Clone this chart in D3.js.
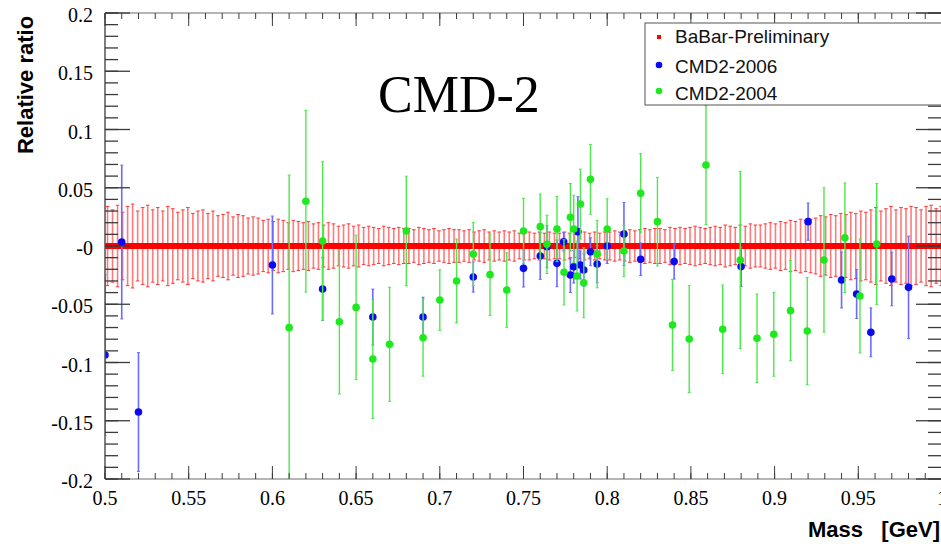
<!DOCTYPE html>
<html>
<head>
<meta charset="utf-8">
<script src="https://cdn.jsdelivr.net/npm/d3@7"></script>
<style>
  body { margin: 0; background: #fff; }
  svg { display: block; }
</style>
</head>
<body>
<script>
// BaBar-Preliminary: bin centres (GeV) and half-width of the error bars (ratio is 0)
const babarMass = [
  0.5015,0.5045,0.5075,0.5105,0.5135,0.5165,0.5195,0.5225,0.5255,0.5285,
  0.5315,0.5345,0.5375,0.5405,0.5435,0.5465,0.5495,0.5525,0.5555,0.5585,
  0.5615,0.5645,0.5675,0.5705,0.5735,0.5765,0.5795,0.5825,0.5855,0.5885,
  0.5915,0.5945,0.5975,0.6005,0.6035,0.6065,0.6095,0.6125,0.6155,0.6185,
  0.6215,0.6245,0.6275,0.6305,0.6335,0.6365,0.6395,0.6425,0.6455,0.6485,
  0.6515,0.6545,0.6575,0.6605,0.6635,0.6665,0.6695,0.6725,0.6755,0.6785,
  0.6815,0.6845,0.6875,0.6905,0.6935,0.6965,0.6995,0.7025,0.7055,0.7085,
  0.7115,0.7145,0.7175,0.7205,0.7235,0.7265,0.7295,0.7325,0.7355,0.7385,
  0.7415,0.7445,0.7475,0.7505,0.7535,0.7565,0.7595,0.7625,0.7655,0.7685,
  0.7715,0.7745,0.7775,0.7805,0.7835,0.7865,0.7895,0.7925,0.7955,0.7985,
  0.8015,0.8045,0.8075,0.8105,0.8135,0.8165,0.8195,0.8225,0.8255,0.8285,
  0.8315,0.8345,0.8375,0.8405,0.8435,0.8465,0.8495,0.8525,0.8555,0.8585,
  0.8615,0.8645,0.8675,0.8705,0.8735,0.8765,0.8795,0.8825,0.8855,0.8885,
  0.8915,0.8945,0.8975,0.9005,0.9035,0.9065,0.9095,0.9125,0.9155,0.9185,
  0.9215,0.9245,0.9275,0.9305,0.9335,0.9365,0.9395,0.9425,0.9455,0.9485,
  0.9515,0.9545,0.9575,0.9605,0.9635,0.9665,0.9695,0.9725,0.9755,0.9785,
  0.9815,0.9845,0.9875,0.9905,0.9935,0.9965,0.9995
];
const babarErr = [
  0.034,0.031,0.035,0.029,0.034,0.036,0.030,0.033,0.035,0.031,
  0.033,0.030,0.034,0.032,0.029,0.031,0.033,0.028,0.030,0.031,
  0.028,0.030,0.026,0.027,0.029,0.025,0.027,0.026,0.024,0.025,
  0.024,0.022,0.023,0.021,0.023,0.022,0.020,0.022,0.021,0.020,
  0.021,0.019,0.020,0.018,0.020,0.019,0.017,0.018,0.019,0.017,
  0.018,0.016,0.017,0.016,0.015,0.017,0.016,0.015,0.016,0.015,
  0.015,0.014,0.016,0.015,0.014,0.015,0.013,0.014,0.015,0.014,
  0.014,0.013,0.014,0.012,0.013,0.014,0.012,0.013,0.012,0.013,
  0.012,0.013,0.011,0.012,0.012,0.011,0.012,0.011,0.012,0.011,
  0.011,0.012,0.011,0.010,0.011,0.012,0.011,0.012,0.011,0.012,
  0.012,0.013,0.012,0.013,0.014,0.013,0.014,0.015,0.014,0.015,
  0.015,0.014,0.016,0.015,0.016,0.015,0.016,0.017,0.016,0.015,
  0.016,0.017,0.016,0.018,0.017,0.016,0.018,0.017,0.019,0.018,
  0.018,0.019,0.020,0.019,0.021,0.020,0.022,0.021,0.023,0.022,
  0.023,0.024,0.026,0.025,0.027,0.026,0.028,0.027,0.029,0.028,
  0.030,0.029,0.031,0.033,0.030,0.032,0.034,0.031,0.033,0.032,
  0.034,0.033,0.031,0.034,0.035,0.032,0.034
];

// CMD2-2006
const cmd06Mass = [0.500,0.510,0.520,0.600,0.630,0.660,0.690,0.720,0.750,0.760,0.764,0.770,0.774,0.778,0.780,0.7825,0.784,0.786,0.790,0.794,0.800,0.810,0.820,0.840,0.880,0.920,0.940,0.949,0.9575,0.970,0.980];
const cmd06Val  = [-0.0936,0.0034,-0.1425,-0.0163,-0.0370,-0.0610,-0.0610,-0.0266,-0.0192,-0.0086,-0.0006,-0.0149,0.0037,-0.0249,-0.0178,0.0123,-0.0163,-0.0206,-0.0049,-0.0155,0.0000,0.0103,-0.0114,-0.0134,-0.0177,0.0209,-0.0292,-0.0412,-0.0741,-0.0283,-0.0355];
const cmd06Err  = [0.069,0.066,0.051,0.042,0.027,0.024,0.017,0.013,0.016,0.020,0.018,0.020,0.008,0.015,0.014,0.030,0.012,0.014,0.012,0.016,0.015,0.027,0.014,0.015,0.017,0.016,0.024,0.021,0.021,0.023,0.044];

// CMD2-2004
const cmd04Mass = [0.610,0.620,0.630,0.640,0.650,0.660,0.670,0.680,0.690,0.700,0.710,0.720,0.730,0.740,0.750,0.760,0.764,0.770,0.7742,0.778,0.780,0.782,0.784,0.786,0.790,0.794,0.800,0.810,0.820,0.830,0.839,0.849,0.859,0.869,0.8795,0.8895,0.8995,0.9095,0.9195,0.9295,0.942,0.951,0.961];
const cmd04Val  = [-0.0701,0.0384,0.0043,-0.0650,-0.0527,-0.0970,-0.0844,0.0129,-0.0787,-0.0464,-0.0300,-0.0069,-0.0246,-0.0378,0.0129,0.0166,0.0014,0.0146,-0.0226,0.0246,0.0146,-0.0258,0.0360,-0.0315,0.0572,-0.0069,0.0146,-0.0043,0.0452,0.0209,-0.0678,-0.0798,0.0695,-0.0715,-0.0120,-0.0792,-0.0758,-0.0555,-0.0730,-0.0120,0.0071,-0.0429,0.0017];
const cmd04Err  = [0.131,0.078,0.068,0.062,0.062,0.051,0.049,0.047,0.033,0.026,0.036,0.027,0.035,0.032,0.028,0.028,0.025,0.028,0.028,0.029,0.029,0.030,0.030,0.030,0.030,0.029,0.026,0.022,0.034,0.038,0.039,0.046,0.051,0.038,0.076,0.038,0.036,0.043,0.046,0.062,0.047,0.049,0.052];

const xMajorTicks = [0.5,0.55,0.6,0.65,0.7,0.75,0.8,0.85,0.9,0.95,1.0];
const xTickLabels = ["0.5","0.55","0.6","0.65","0.7","0.75","0.8","0.85","0.9","0.95","1"];
const yMajorTicks = [-0.2,-0.15,-0.1,-0.05,0,0.05,0.1,0.15,0.2];
const yTickLabels = ["-0.2","-0.15","-0.1","-0.05","-0","0.05","0.1","0.15","0.2"];
const legendNames = ["BaBar-Preliminary","CMD2-2006","CMD2-2004"];

const width = 941, height = 544;
const x0 = 105, x1 = 942, y0 = 13, y1 = 479;

const x = d3.scaleLinear().domain([0.5, 1.0]).range([x0, x1]);
const y = d3.scaleLinear().domain([-0.2, 0.2]).range([y1, y0]);

const svg = d3.select("body").append("svg")
  .attr("width", width).attr("height", height);

svg.append("defs").append("clipPath").attr("id", "plotclip")
  .append("rect").attr("x", x0).attr("y", y0).attr("width", x1 - x0).attr("height", y1 - y0);

const plot = svg.append("g").attr("clip-path", "url(#plotclip)");

// error bar helper
function drawSeries(g, mass, val, err, barColor, barWidth, capW, capColor) {
  const d = mass.map((m, i) => ({ m: m, v: val ? val[i] : 0, e: err[i] }));
  g.selectAll("line.bar").data(d).join("line").attr("class", "bar")
    .attr("x1", p => x(p.m)).attr("x2", p => x(p.m))
    .attr("y1", p => y(p.v + p.e)).attr("y2", p => y(p.v - p.e))
    .attr("stroke", barColor).attr("stroke-width", barWidth);
  g.selectAll("line.capt").data(d).join("line").attr("class", "capt")
    .attr("x1", p => x(p.m) - capW).attr("x2", p => x(p.m) + capW)
    .attr("y1", p => y(p.v + p.e)).attr("y2", p => y(p.v + p.e))
    .attr("stroke", capColor || barColor).attr("stroke-width", 1);
  g.selectAll("line.capb").data(d).join("line").attr("class", "capb")
    .attr("x1", p => x(p.m) - capW).attr("x2", p => x(p.m) + capW)
    .attr("y1", p => y(p.v - p.e)).attr("y2", p => y(p.v - p.e))
    .attr("stroke", capColor || barColor).attr("stroke-width", 1);
  return d;
}

// BaBar band
const gB = plot.append("g");
const babarPts = drawSeries(gB, babarMass, null, babarErr, "#ff7a7a", 1.6, 1.8, "#ff3838");
gB.selectAll("rect.pt").data(babarPts).join("rect").attr("class", "pt")
  .attr("x", p => x(p.m) - 3).attr("y", p => y(p.v) - 3)
  .attr("width", 6).attr("height", 6).attr("fill", "#ff0000");

// CMD2-2006
const gC6 = plot.append("g");
const c6 = drawSeries(gC6, cmd06Mass, cmd06Val, cmd06Err, "#6b6bff", 1.6, 1.5);
gC6.selectAll("circle").data(c6).join("circle")
  .attr("cx", p => x(p.m)).attr("cy", p => y(p.v)).attr("r", 3.8).attr("fill", "#0a0af0");

// CMD2-2004
const gC4 = plot.append("g");
const c4 = drawSeries(gC4, cmd04Mass, cmd04Val, cmd04Err, "#4de84d", 1.4, 1.5);
gC4.selectAll("circle").data(c4).join("circle")
  .attr("cx", p => x(p.m)).attr("cy", p => y(p.v)).attr("r", 3.8).attr("fill", "#1ee81e");

// frame
const ax = svg.append("g");
ax.append("line").attr("x1", x0).attr("x2", 941).attr("y1", y0).attr("y2", y0).attr("stroke", "#b5b5b5").attr("stroke-width", 2);
ax.append("line").attr("x1", x0).attr("x2", 941).attr("y1", y1).attr("y2", y1).attr("stroke", "#b5b5b5").attr("stroke-width", 2);
ax.append("line").attr("x1", x0).attr("x2", x0).attr("y1", y0).attr("y2", y1).attr("stroke", "#555").attr("stroke-width", 1.5);

const xMinor = d3.range(0.5, 1.0001, 0.01);
const yMinor = d3.range(-0.2, 0.2001, 0.01);
const tickColor = "#3a3a3a";

// x ticks bottom and top
[[y1, -1], [y0, 1]].forEach(([yy, dir]) => {
  ax.selectAll(null).data(xMinor).join("line")
    .attr("x1", d => x(d)).attr("x2", d => x(d))
    .attr("y1", yy).attr("y2", yy + dir * 6).attr("stroke", tickColor);
  ax.selectAll(null).data(xMajorTicks).join("line")
    .attr("x1", d => x(d)).attr("x2", d => x(d))
    .attr("y1", yy).attr("y2", yy + dir * 13).attr("stroke", tickColor);
});
// y ticks left and right
[[x0, 1], [x1 - 1, -1]].forEach(([xx, dir]) => {
  ax.selectAll(null).data(yMinor).join("line")
    .attr("x1", xx).attr("x2", xx + dir * 13)
    .attr("y1", d => y(d)).attr("y2", d => y(d)).attr("stroke", tickColor).attr("stroke-width", 1.3);
  ax.selectAll(null).data(yMajorTicks).join("line")
    .attr("x1", xx).attr("x2", xx + dir * 25)
    .attr("y1", d => y(d)).attr("y2", d => y(d)).attr("stroke", tickColor).attr("stroke-width", 1.3);
});

// tick labels
ax.selectAll("text.xl").data(xMajorTicks).join("text").attr("class", "xl")
  .attr("x", d => x(d)).attr("y", 505)
  .attr("text-anchor", "middle")
  .style("font-family", "'Liberation Serif', 'DejaVu Serif', serif").style("font-size", "20px")
  .text((d, i) => xTickLabels[i]);
ax.selectAll("text.yl").data(yMajorTicks).join("text").attr("class", "yl")
  .attr("x", 93).attr("y", d => y(d) + 9)
  .attr("text-anchor", "end")
  .style("font-family", "'Liberation Serif', 'DejaVu Serif', serif").style("font-size", "20px")
  .text((d, i) => yTickLabels[i]);

// axis titles
svg.append("text")
  .attr("transform", "translate(33,85) rotate(-90)")
  .attr("text-anchor", "middle")
  .style("font-family", "'Liberation Sans', Arial, sans-serif").style("font-size", "22px").style("font-weight", "bold")
  .text("Relative ratio");
svg.append("text")
  .attr("x", 940).attr("y", 537).attr("text-anchor", "end")
  .style("white-space", "pre")
  .style("font-family", "'Liberation Sans', Arial, sans-serif").style("font-size", "22px").style("font-weight", "bold")
  .text("Mass   [GeV]");

// big label
svg.append("text")
  .attr("x", 378).attr("y", 112)
  .style("font-family", "'Liberation Serif', 'Times New Roman', serif").style("font-size", "52px")
  .text("CMD-2");

// legend
const lg = svg.append("g");
lg.append("rect").attr("x", 645).attr("y", 23).attr("width", 300).attr("height", 82)
  .attr("fill", "#fff").attr("stroke", "#555").attr("stroke-width", 1);
const legY = [43, 73, 100];
lg.append("rect").attr("x", 657).attr("y", legY[0] - 8).attr("width", 4).attr("height", 4).attr("fill", "#ff0000");
lg.append("circle").attr("cx", 659).attr("cy", legY[1] - 8).attr("r", 3.3).attr("fill", "#0a0af0");
lg.append("circle").attr("cx", 659).attr("cy", legY[2] - 9).attr("r", 3.3).attr("fill", "#1ee81e");
lg.selectAll("text").data(legendNames).join("text")
  .attr("x", 675).attr("y", (d, i) => legY[i])
  .style("font-family", "'Liberation Sans', Arial, sans-serif").style("font-size", "19px")
  .attr("fill", "#111")
  .text(d => d);
</script>
</body>
</html>
